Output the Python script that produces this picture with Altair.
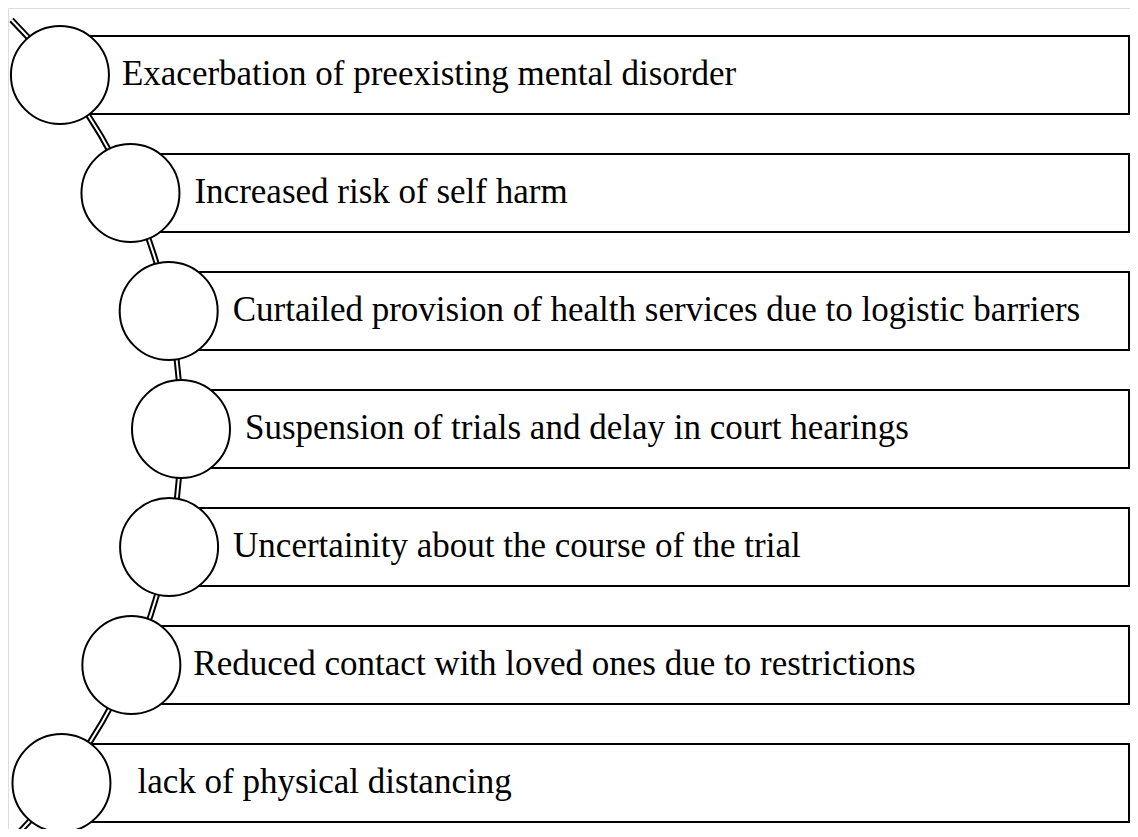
import math
import altair as alt
import pandas as pd

# ---- content ----
labels = [
    "Exacerbation of preexisting mental disorder",
    "Increased risk of self harm",
    "Curtailed provision of health services due to logistic barriers",
    "Suspension of trials and delay in court hearings",
    "Uncertainity about the course of the trial",
    "Reduced contact with loved ones due to restrictions",
    "lack of physical distancing",
]

# ---- layout (pixel-like diagram coordinates, page origin at 8px margin) ----
W, H = 1122, 821
ORIGIN = 8
ROW0, ROW_STEP = 75, 118
HALF_BOX = 39
BOX_RIGHT = 1129
CIRCLE_R = 49
ARC_CX, ARC_CY, ARC_R = -400, 430, 581
TEXT_GAP = [13, 15, 15, 15, 15, 13, 27]

rows = []
for i, lab in enumerate(labels):
    yc = ROW0 + ROW_STEP * i
    xc = ARC_CX + math.sqrt(ARC_R ** 2 - (yc - ARC_CY) ** 2)
    rows.append(dict(label=lab, xc=xc, yc=yc, top=yc - HALF_BOX, bot=yc + HALF_BOX,
                     right=BOX_RIGHT, tx=xc + CIRCLE_R + TEXT_GAP[i], ty=yc + 10))
df = pd.DataFrame(rows)

arc_df = pd.DataFrame([dict(cx=ARC_CX, cy=ARC_CY, t0=0.787, t1=2.40)])

xs = alt.Scale(domain=[ORIGIN, ORIGIN + W], nice=False, zero=False)
ys = alt.Scale(domain=[ORIGIN, ORIGIN + H], nice=False, zero=False, reverse=True)

base_arc = alt.Chart(arc_df).encode(
    x=alt.X("cx:Q", scale=xs, axis=None),
    y=alt.Y("cy:Q", scale=ys, axis=None),
    theta=alt.Theta("t0:Q", scale=None),
    theta2=alt.Theta2("t1:Q"),
)
arc_outer = base_arc.mark_arc(color="black", radius=ARC_R + 3, radius2=ARC_R - 3)
arc_inner = base_arc.mark_arc(color="white", radius=ARC_R + 1, radius2=ARC_R - 1)

boxes = alt.Chart(df).mark_rect(fill="white", stroke="black", strokeWidth=2).encode(
    x=alt.X("xc:Q", scale=xs, axis=None),
    x2="right:Q",
    y=alt.Y("top:Q", scale=ys, axis=None),
    y2="bot:Q",
)

circles = alt.Chart(df).mark_point(
    shape="circle", filled=True, fill="white", stroke="black", strokeWidth=2,
    size=(2 * CIRCLE_R) ** 2, opacity=1,
).encode(
    x=alt.X("xc:Q", scale=xs, axis=None),
    y=alt.Y("yc:Q", scale=ys, axis=None),
)

texts = alt.Chart(df).mark_text(
    align="left", baseline="alphabetic", font="Liberation Serif", fontSize=35, color="black",
).encode(
    x=alt.X("tx:Q", scale=xs, axis=None),
    y=alt.Y("ty:Q", scale=ys, axis=None),
    text="label:N",
)

chart = alt.layer(arc_outer, arc_inner, boxes, circles, texts).properties(
    width=W, height=H, padding=0, autosize=alt.AutoSizeParams(type="none"),
).configure_view(stroke="transparent", strokeWidth=0).configure(background="transparent")

chart.save("out.html", embed_options={"renderer": "svg", "actions": False})
